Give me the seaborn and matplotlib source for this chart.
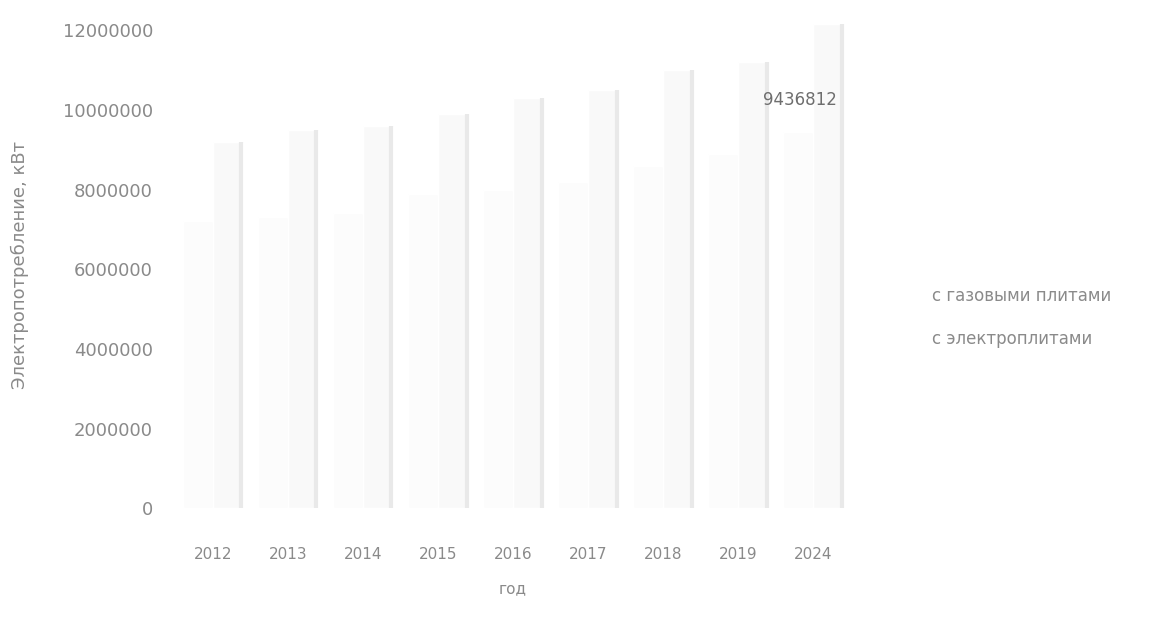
import pandas as pd
import matplotlib
matplotlib.use('Agg')
import matplotlib.pyplot as plt
import seaborn as sns

# данные (значения оценены по картинке)
years = ['2012', '2013', '2014', '2015', '2016', '2017', '2018', '2019', '2024']
gas_stoves = [7200000, 7300000, 7400000, 7900000, 8000000, 8200000, 8600000, 8900000, 9436812]
electric_stoves = [9190000, 9490000, 9600000, 9900000, 10300000, 10500000, 11000000, 11200000, 12150000]
series_names = ['с газовыми плитами', 'с электроплитами']

df = pd.DataFrame({
    'год': years * 2,
    'значение': gas_stoves + electric_stoves,
    'серия': [series_names[0]] * len(years) + [series_names[1]] * len(years),
})

sns.set_style('white')
plt.rcParams['font.family'] = ['DejaVu Sans']
text_color = '#8a8a8a'

fig = plt.figure(figsize=(11.53, 6.19), dpi=100)
ax = fig.add_axes([0.152, 0.179, 0.586, 0.785])

sns.barplot(data=df, x='год', y='значение', hue='серия', order=years,
            hue_order=series_names, palette=['#fcfcfc', '#f9f9f9'],
            width=0.8, dodge=True, saturation=1, ax=ax)

# тонкая серая полоса по правому краю столбцов "с электроплитами"
for p in ax.containers[1]:
    x_right = p.get_x() + p.get_width()
    ax.vlines(x_right - 0.02, 0, p.get_height(), color='#e9e9e9', linewidth=3, zorder=3)

# подпись значения для 2024
gas_bar = ax.containers[0][-1]
ax.annotate(f'{gas_stoves[-1]}', xy=(gas_bar.get_x() + gas_bar.get_width() / 2, gas_bar.get_height()),
            xytext=(1, 23), textcoords='offset points', ha='center', va='center',
            fontsize=12, color='#6e6e6e')

ax.set_xlim(-0.5, len(years) - 0.5)
ax.set_ylim(0, 12200000)
ax.set_yticks(range(0, 12000001, 2000000))
ax.set_yticklabels([str(v) for v in range(0, 12000001, 2000000)])
ax.set_xlabel('год', fontsize=11, color=text_color, labelpad=14)
ax.set_ylabel('Электропотребление, кВт', fontsize=13, color=text_color, labelpad=24)
ax.tick_params(axis='x', length=0, labelsize=11, labelcolor=text_color, pad=28)
ax.tick_params(axis='y', length=0, labelsize=13, labelcolor=text_color, pad=16)
sns.despine(ax=ax, left=True, bottom=True)

handles, labels = ax.get_legend_handles_labels()
for h in handles:
    h.set_facecolor('white')
    h.set_edgecolor('white')
ax.legend(handles, labels, loc='center left', bbox_to_anchor=(1.085, 0.393), frameon=False,
          fontsize=12, labelcolor=text_color, handlelength=0.3, handletextpad=0.2,
          labelspacing=1.5)

fig.savefig('out.png', dpi=100)
